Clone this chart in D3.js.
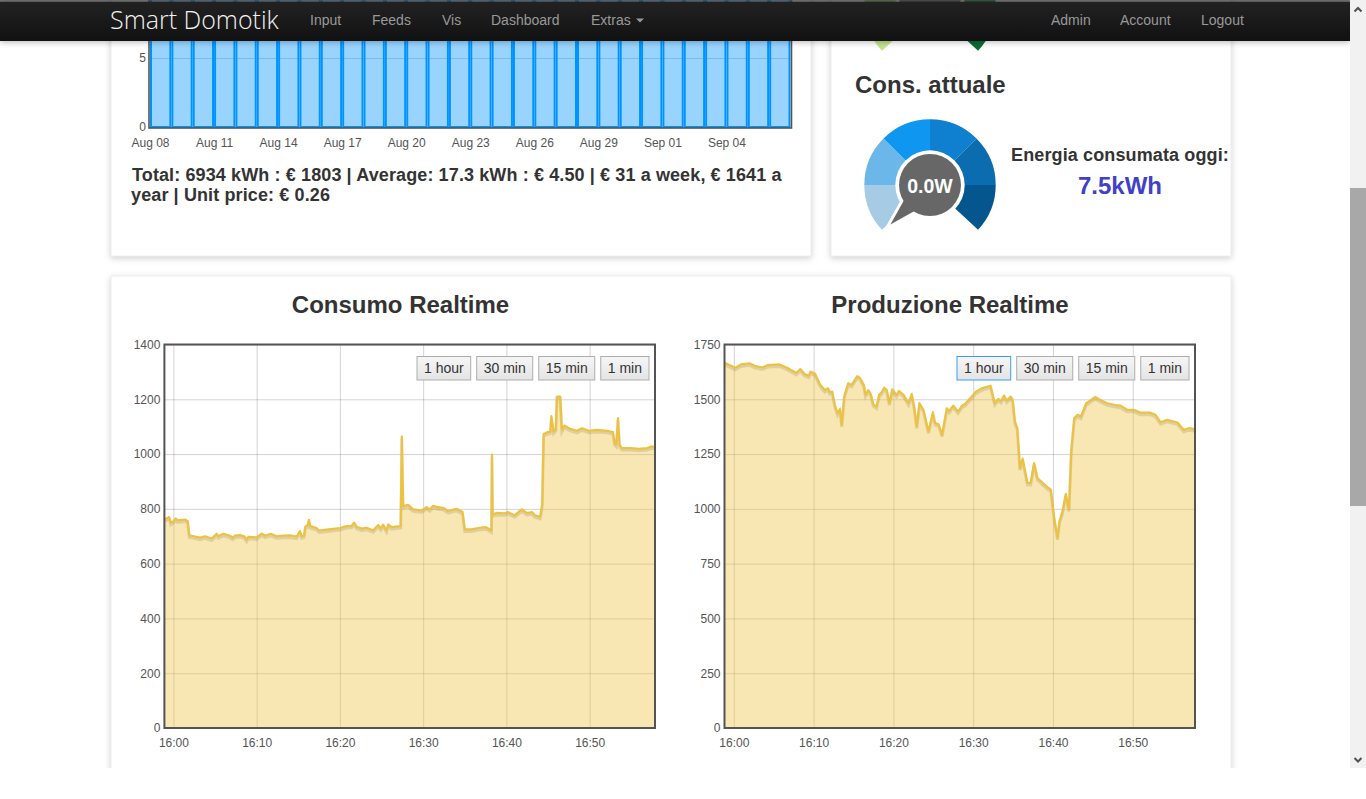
<!DOCTYPE html>
<html>
<head>
<meta charset="utf-8">
<title>Smart Domotik</title>
<script src="https://cdn.jsdelivr.net/npm/d3@7"></script>
<style>
    html, body { margin: 0; padding: 0; background: #fff; overflow: hidden; }
    svg { display: block; font-family: "Liberation Sans", Arial, sans-serif; }
    .card { fill: #fff; stroke: #eee; stroke-width: 1; filter: drop-shadow(0 2px 3px rgba(0, 0, 0, 0.18)); }
    .tick text { fill: #545454; font-size: 12px; }
    .axis .domain, .axis line { display: none; }
    .grid .domain { display: none; }
    .grid line { stroke: rgba(84, 84, 84, 0.25); stroke-width: 1; }
    .grid text { display: none; }
    .nav-link { fill: #999; font-size: 14px; }
    .heading { fill: #333; font-weight: bold; }
</style>
</head>
<body>
<svg id="page" width="1366" height="768"></svg>
<script>
// daily energy, the tops of these bars are hidden behind the navbar so values are estimates
const dailyKwh = [17.2, 16.8, 18.1, 17.5, 16.4, 17.9, 18.4, 16.9, 17.1, 17.7, 16.6, 18.0, 17.4, 16.7, 17.8,
    18.2, 17.0, 16.5, 17.6, 17.3, 18.3, 16.8, 17.2, 17.9, 16.9, 17.5, 18.1, 17.0, 16.6, 17.4]
const dailyTicks = ['2014-08-08', '2014-08-11', '2014-08-14', '2014-08-17', '2014-08-20', '2014-08-23',
    '2014-08-26', '2014-08-29', '2014-09-01', '2014-09-04']
const dailyYTicks = [0, 5]

// minutes after 16:00
const consumoMinutes = [-1.08, -0.8, -0.52, -0.3, 0, 0.28, 0.48, 1.4, 1.72, 1.92, 2.6, 3.2, 3.8, 4.6, 5.2, 5.4, 6, 6.8, 7.1, 7.4,
    8, 8.5, 8.8, 9, 10, 10.6, 11, 11.7, 12.4, 13.2, 14, 14.8, 15.2, 15.4, 15.7, 15.84, 16.1, 16.28, 16.44, 17.2,
    17.5, 18.4, 19.2, 20, 20.8, 21.4, 21.7, 22, 22.6, 23.2, 24, 24.6, 24.9, 25.2, 25.6, 25.8, 26.2, 27.2, 27.3, 27.43,
    27.6, 28.2, 28.8, 29.8, 30.4, 30.8, 31.2, 31.8, 32.4, 33, 34, 34.74, 35, 35.8, 36.8, 37.55, 38.2, 38.27, 38.35, 38.8,
    39.8, 40.2, 41, 41.85, 42.45, 43.1, 43.45, 44.05, 44.3, 44.46, 44.86, 45.26, 45.4, 45.66, 45.94, 46.06, 46.47, 46.67, 46.95, 47.67,
    48.47, 49.08, 49.88, 50.88, 52.1, 52.8, 53, 53.2, 53.4, 53.6, 53.86, 54.9, 55.9, 56.9, 57.5, 57.85]
const consumoWatts = [764, 765, 770, 749, 755, 765, 758, 761, 755, 703, 699, 695, 700, 692, 709, 700, 709, 702, 695, 702,
    704, 700, 688, 698, 696, 710, 702, 709, 700, 702, 703, 699, 719, 700, 703, 735, 739, 760, 737, 730,
    721, 724, 727, 730, 737, 738, 750, 735, 728, 731, 722, 741, 729, 742, 722, 743, 733, 737, 737, 1064,
    810, 815, 798, 794, 806, 798, 811, 806, 804, 792, 800, 789, 725, 725, 731, 733, 721, 998, 779, 785,
    784, 788, 777, 798, 785, 788, 776, 771, 816, 1073, 1079, 1082, 1139, 1082, 1091, 1210, 1210, 1088, 1104, 1092,
    1085, 1094, 1085, 1088, 1085, 1080, 1040, 1034, 1131, 1034, 1022, 1022, 1019, 1022, 1028, 1024]

const produzioneMinutes = [-1.17, -0.55, 0.2, 0.92, 1.97, 2.6, 3.56, 4.28, 5.74, 6.67, 7.84, 8.34, 8.9, 9.4, 9.6, 10.17, 10.8, 11.4, 11.8, 12.03,
    12.33, 12.66, 13, 13.3, 13.54, 13.84, 14.34, 14.76, 15.47, 15.8, 16.3, 16.5, 16.85, 17.14, 17.48, 17.9, 18.2, 18.53, 18.87, 19.16,
    19.5, 19.87, 20.4, 20.7, 21.26, 21.9, 22.3, 22.6, 22.93, 23.27, 23.77, 24.4, 24.95, 25.24, 25.66, 26.1, 26.7, 27, 27.5, 28.1,
    28.6, 28.95, 29.8, 30.34, 31.05, 32.18, 32.7, 33.14, 33.48, 33.86, 34.2, 34.7, 34.95, 35.24, 35.53, 35.87, 36.2, 36.8, 37.2, 37.63,
    38.05, 38.8, 39.43, 39.73, 40.15, 40.57, 40.82, 41.2, 41.6, 42, 42.28, 42.66, 43.08, 43.5, 44.17, 44.67, 45.3, 45.93, 46.77, 47.8,
    48.45, 49.3, 50.13, 50.97, 52.2, 52.85, 53.5, 54.3, 55.6, 56.4, 57, 57.8]
const produzioneWatts = [1667, 1656, 1644, 1659, 1664, 1653, 1645, 1656, 1659, 1644, 1620, 1638, 1614, 1608, 1626, 1618, 1568, 1542, 1550, 1532,
    1535, 1474, 1436, 1456, 1383, 1512, 1573, 1565, 1606, 1598, 1565, 1520, 1542, 1527, 1477, 1467, 1520, 1532, 1553, 1542,
    1482, 1545, 1520, 1538, 1520, 1482, 1523, 1467, 1376, 1482, 1452, 1353, 1441, 1391, 1386, 1338, 1459, 1447, 1471, 1444,
    1471, 1477, 1512, 1535, 1550, 1562, 1482, 1502, 1492, 1517, 1494, 1512, 1497, 1398, 1368, 1186, 1229, 1118, 1118, 1209,
    1141, 1115, 1095, 1088, 959, 868, 944, 989, 1068, 997, 1262, 1414, 1429, 1421, 1482, 1494, 1511, 1497, 1482, 1474,
    1471, 1452, 1452, 1439, 1439, 1429, 1395, 1406, 1394, 1360, 1368, 1364]

const consumoYTicks = [0, 200, 400, 600, 800, 1000, 1200, 1400]
const produzioneYTicks = [0, 250, 500, 750, 1000, 1250, 1500, 1750]
const timeTicks = [0, 10, 20, 30, 40, 50]
const buttonLabels = ['1 hour', '30 min', '15 min', '1 min']

const navLeft = ['Input', 'Feeds', 'Vis', 'Dashboard', 'Extras']
const navRight = ['Admin', 'Account', 'Logout']

const blueStops = ['#a6cbe4', '#6cb7ea', '#0f96f0', '#0f7fd0', '#0b6caf', '#05568f']
const greenStops = ['#c5e38e', '#9bd07a', '#6dbb5e', '#3da047', '#1b8a3c', '#0a6e35']
const gaugeMax = 6

const svg = d3.select('#page')
const defs = svg.append('defs')

const parseDay = d3.timeParse('%Y-%m-%d')
const baseHour = new Date(2014, 8, 6, 16, 0)
const toTime = (m) => d3.timeSecond.offset(baseHour, Math.round(m * 60))

const addGradient = (id, stops) => {
    const g = defs.append('linearGradient').attr('id', id).attr('x1', 0).attr('x2', 0).attr('y1', 0).attr('y2', 1)
    stops.forEach((c, i) => g.append('stop').attr('offset', i / (stops.length - 1)).attr('stop-color', c))
}
addGradient('navGrad', ['#222222', '#111111'])
addGradient('btnGrad', ['#f6f6f6', '#e4e4e4'])

// cards
const cards = [[111, -200, 700, 456], [831, -200, 400, 456], [111, 276, 1120, 600]]
svg.selectAll('.card').data(cards).enter().append('rect')
    .attr('class', 'card')
    .attr('x', d => d[0]).attr('y', d => d[1])
    .attr('width', d => d[2]).attr('height', d => d[3])

const drawDaily = () => {
    const firstDay = parseDay(dailyTicks[0])
    const days = dailyKwh.map((v, i) => d3.timeDay.offset(firstDay, i))
    const x = d3.scaleTime().domain([firstDay, d3.timeDay.offset(firstDay, dailyKwh.length)]).range([150, 790.5])
    const y = d3.scaleLinear().domain([0, 30]).range([127, -287])
    const g = svg.append('g')

    g.append('g').attr('class', 'grid').attr('transform', 'translate(150,0)')
        .call(d3.axisLeft(y).tickValues(dailyYTicks).tickSize(-640))

    g.selectAll('.bar').data(dailyKwh).enter().append('rect')
        .attr('class', 'bar')
        .attr('x', (d, i) => x(days[i]) + 1)
        .attr('y', d => y(d))
        .attr('width', (d, i) => x(d3.timeDay.offset(days[i], 1)) - x(days[i]) - 2)
        .attr('height', d => y(0) - y(d))
        .attr('fill', 'rgba(0, 148, 255, 0.4)')
        .attr('stroke', '#0094ff')
        .attr('stroke-width', 2)

    g.append('rect').attr('x', 149).attr('y', -300).attr('width', 642.5).attr('height', 428)
        .attr('fill', 'none').attr('stroke', '#545454').attr('stroke-width', 1.6)

    g.append('g').attr('class', 'axis').attr('transform', 'translate(146,0)')
        .call(d3.axisLeft(y).tickValues(dailyYTicks).tickSize(0).tickPadding(0))
    g.append('g').attr('class', 'axis').attr('transform', 'translate(0,130)')
        .call(d3.axisBottom(x).tickValues(dailyTicks.map(parseDay)).tickFormat(d3.timeFormat('%b %d')).tickSize(0).tickPadding(8))
}

const drawRealtime = (id, opts) => {
    const x = d3.scaleTime()
        .domain([toTime(opts.minutes[0]), toTime(opts.minutes[opts.minutes.length - 1])])
        .range([opts.left, opts.right])
    const y = d3.scaleLinear().domain([0, opts.yTicks[opts.yTicks.length - 1]]).range([728, 344.5])
    const points = opts.minutes.map((m, i) => [toTime(m), opts.values[i]])
    const width = opts.right - opts.left
    const height = y(0) - y.range()[1]
    const g = svg.append('g')

    defs.append('clipPath').attr('id', id).append('rect')
        .attr('x', opts.left).attr('y', y.range()[1]).attr('width', width).attr('height', height)

    g.append('g').attr('class', 'grid').attr('transform', `translate(${opts.left},0)`)
        .call(d3.axisLeft(y).tickValues(opts.yTicks).tickSize(-width))
    g.append('g').attr('class', 'grid').attr('transform', 'translate(0,728)')
        .call(d3.axisBottom(x).tickValues(timeTicks.map(toTime)).tickSize(-height))

    const line = d3.line().x(d => x(d[0])).y(d => y(d[1]))
    const area = d3.area().x(d => x(d[0])).y0(y(0)).y1(d => y(d[1]))
    const plot = g.append('g').attr('clip-path', `url(#${id})`)

    plot.append('path').datum(points).attr('d', area).attr('fill', 'rgba(237, 194, 64, 0.4)')
    plot.append('path').datum(points).attr('d', line).attr('fill', 'none')
        .attr('stroke', 'rgba(0, 0, 0, 0.1)').attr('stroke-width', 3).attr('transform', 'translate(0,2)')
    plot.append('path').datum(points).attr('d', line).attr('fill', 'none')
        .attr('stroke', '#edc240').attr('stroke-width', 2.2).attr('stroke-linejoin', 'round')

    g.append('rect').attr('x', opts.left).attr('y', y.range()[1]).attr('width', width).attr('height', height)
        .attr('fill', 'none').attr('stroke', '#545454').attr('stroke-width', 2)

    g.append('g').attr('class', 'axis').attr('transform', `translate(${opts.left - 4},0)`)
        .call(d3.axisLeft(y).tickValues(opts.yTicks).tickFormat(d3.format('d')).tickSize(0).tickPadding(0))
    g.append('g').attr('class', 'axis').attr('transform', 'translate(0,731)')
        .call(d3.axisBottom(x).tickValues(timeTicks.map(toTime)).tickFormat(d3.timeFormat('%H:%M')).tickSize(0).tickPadding(7))

    // range buttons, laid out from the right edge
    let edge = opts.right - 6
    buttonLabels.slice().reverse().forEach((label) => {
        const b = g.append('g')
        const text = b.append('text').text(label).attr('y', 373).attr('font-size', 14).attr('fill', '#333')
        const w = text.node().getComputedTextLength() + 14
        const focused = opts.focused === label
        b.insert('rect', 'text')
            .attr('x', edge - w).attr('y', 356.5).attr('width', w).attr('height', 23.5)
            .attr('fill', 'url(#btnGrad)')
            .attr('stroke', focused ? '#3d9df5' : '#adadad')
        text.attr('x', edge - w + 7)
        edge -= w + 6
    })
}

const drawGauge = (cx, cy, colors, value, label) => {
    const g = svg.append('g').attr('transform', `translate(${cx},${cy})`)
    const stops = [-133, -90, -45, 0, 45, 90, 133]
    const arc = d3.arc().innerRadius(30).outerRadius(65.7)
    const rad = d3.scaleLinear().domain([-180, 180]).range([-Math.PI, Math.PI])
    const needle = d3.scaleLinear().domain([0, gaugeMax]).range([-135, 135])

    g.selectAll('.seg').data(colors).enter().append('path')
        .attr('class', 'seg')
        .attr('fill', d => d)
        .attr('d', (d, i) => arc({ startAngle: rad(stops[i]), endAngle: rad(stops[i + 1]) }))

    const pointer = 'M-9,-24L0,-56L9,-24Z'
    g.append('circle').attr('r', 34.7).attr('fill', '#fff')
    g.append('path').attr('d', pointer).attr('transform', `rotate(${needle(value)})`)
        .attr('fill', '#fff').attr('stroke', '#fff').attr('stroke-width', 6)
    g.append('circle').attr('r', 31).attr('fill', '#666766')
    g.append('path').attr('d', pointer).attr('transform', `rotate(${needle(value)})`)
        .attr('fill', '#666766')
    if (label) {
        g.append('text').text(label).attr('text-anchor', 'middle').attr('y', 8)
            .attr('fill', '#fff').attr('font-weight', 'bold').attr('font-size', 19.5)
    }
}

drawDaily()

svg.append('text').attr('class', 'heading').attr('x', 132).attr('y', 181).attr('font-size', 18).attr('letter-spacing', 0.115)
    .text('Total: 6934 kWh : € 1803 | Average: 17.3 kWh : € 4.50 | € 31 a week, € 1641 a')
svg.append('text').attr('class', 'heading').attr('x', 131).attr('y', 201).attr('font-size', 18).attr('letter-spacing', 0.115)
    .text('year | Unit price: € 0.26')

// the needle of the upper gauge is hidden behind the navbar
drawGauge(930, 6, greenStops, 3, null)
svg.append('text').attr('class', 'heading').attr('x', 855).attr('y', 93).attr('font-size', 24).text('Cons. attuale')
drawGauge(930, 185, blueStops, 0, '0.0W')
svg.append('text').attr('class', 'heading').attr('x', 1120).attr('y', 161).attr('font-size', 18).attr('letter-spacing', 0.12)
    .attr('text-anchor', 'middle').text('Energia consumata oggi:')
svg.append('text').attr('x', 1120).attr('y', 194).attr('font-size', 24).attr('font-weight', 'bold')
    .attr('fill', '#4040c8').attr('text-anchor', 'middle').text('7.5kWh')

svg.append('text').attr('class', 'heading').attr('x', 400.5).attr('y', 313).attr('font-size', 24)
    .attr('text-anchor', 'middle').text('Consumo Realtime')
svg.append('text').attr('class', 'heading').attr('x', 950).attr('y', 313).attr('font-size', 24)
    .attr('text-anchor', 'middle').text('Produzione Realtime')

drawRealtime('clipConsumo', { minutes: consumoMinutes, values: consumoWatts, yTicks: consumoYTicks, left: 164.4, right: 655 })
drawRealtime('clipProduzione', { minutes: produzioneMinutes, values: produzioneWatts, yTicks: produzioneYTicks, left: 724.5, right: 1195, focused: '1 hour' })

// navbar
const nav = svg.append('g')
nav.append('rect').attr('x', 0).attr('y', 0).attr('width', 1350).attr('height', 1.4).attr('fill', 'rgba(70, 70, 70, 0.75)')
nav.append('rect').attr('x', 0).attr('y', 1.4).attr('width', 1350).attr('height', 39.6).attr('fill', 'url(#navGrad)')
    .style('filter', 'drop-shadow(0 1px 3px rgba(0, 0, 0, 0.3))')
nav.append('text').attr('x', 110).attr('y', 29).attr('font-size', 25).attr('font-weight', 300)
    .attr('fill', '#f2f2f2').style('font-family', '"Open Sans"').text('Smart Domotik')
const navLeftX = [310, 372, 442, 491, 591]
nav.selectAll('.left').data(navLeft).enter().append('text')
    .attr('class', 'nav-link left').attr('x', (d, i) => navLeftX[i]).attr('y', 25).text(d => d)
nav.append('path').attr('d', 'M636,18.5h8l-4,4Z').attr('fill', '#999')
const navRightX = [1051, 1120, 1201]
nav.selectAll('.right').data(navRight).enter().append('text')
    .attr('class', 'nav-link right').attr('x', (d, i) => navRightX[i]).attr('y', 25).text(d => d)

// scrollbar
const bar = svg.append('g')
bar.append('rect').attr('x', 1350).attr('y', 0).attr('width', 16).attr('height', 768).attr('fill', '#f1f1f1')
bar.append('rect').attr('x', 1350).attr('y', 188).attr('width', 16).attr('height', 318).attr('fill', '#a8a8a8')
bar.append('path').attr('d', 'M1354.5,11.5L1358,8L1361.5,11.5').attr('fill', 'none').attr('stroke', '#505050').attr('stroke-width', 2)
bar.append('path').attr('d', 'M1354.5,758L1358,761.5L1361.5,758').attr('fill', 'none').attr('stroke', '#505050').attr('stroke-width', 2)
</script>
</body>
</html>
